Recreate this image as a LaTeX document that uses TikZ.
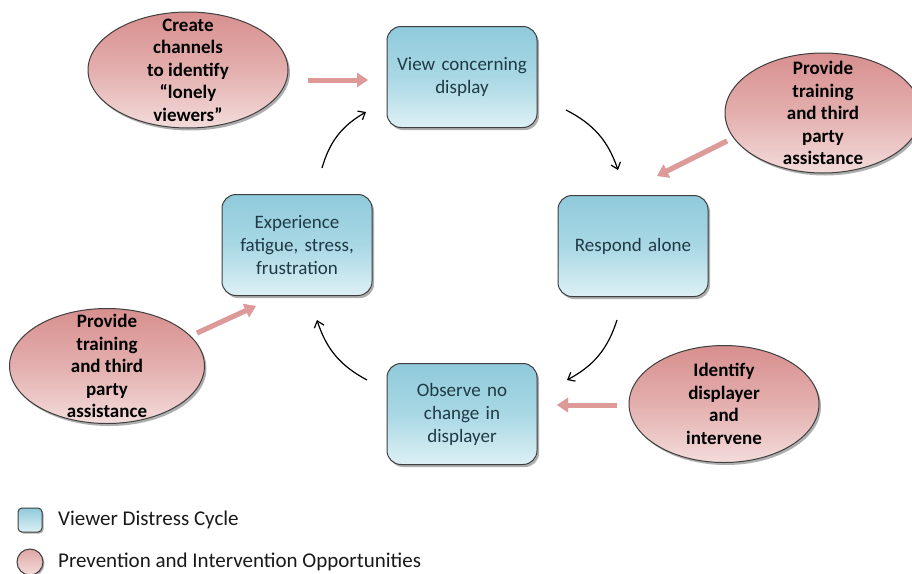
\documentclass[tikz,border=0pt]{standalone}
\usepackage{fontspec}
\setmainfont{Carlito}
\usetikzlibrary{shapes.geometric,arrows.meta,shadows}
\definecolor{boxtop}{HTML}{8FCADB}
\definecolor{boxmid}{HTML}{A9D8E4}
\definecolor{boxbot}{HTML}{DDF0F5}
\definecolor{elltop}{HTML}{D78F8E}
\definecolor{ellmid}{HTML}{E3AFAE}
\definecolor{ellbot}{HTML}{F3DCDB}
\definecolor{edge}{HTML}{3F3F3F}
\definecolor{boxtext}{HTML}{1F3A44}
\definecolor{pinkarrow}{HTML}{DE9A99}
\begin{document}
\begin{tikzpicture}[x=1pt,y=-1pt,
  cyclebox/.style={draw=edge, line width=1pt, rounded corners=14pt,
    minimum width=150pt, minimum height=101pt,
    top color=boxtop, bottom color=boxbot, middle color=boxmid,
    drop shadow={shadow xshift=2pt, shadow yshift=-2.5pt, opacity=0.45, fill=black!70},
    font=\fontsize{19}{23}\selectfont, text=boxtext, align=center,
    text width=142pt, inner sep=0pt},
  opp/.style={ellipse, draw=edge, line width=1pt,
    top color=elltop, bottom color=ellbot, middle color=ellmid,
    drop shadow={shadow xshift=2pt, shadow yshift=-2.5pt, opacity=0.45, fill=black!70},
    inner sep=0pt},
  opptext/.style={font=\bfseries\fontsize{19}{22.5}\selectfont, text=black, align=center, inner sep=0pt},
  cycarrow/.style={line width=1.2pt, -{Straight Barb[length=6pt,width=10pt,line width=1.2pt]}, bend left=22},
  pinkarr/.style={line width=5pt, draw=pinkarrow, -{Triangle[length=11pt,width=14pt]}},
  pinkshadow/.style={line width=5pt, draw=black, opacity=0.18, -{Triangle[length=11pt,width=14pt]}},
  legtext/.style={font=\fontsize{21}{25}\selectfont, text=black!90, anchor=west, inner sep=0pt}
]
\useasboundingbox (0,0) rectangle (912,573);
\fill[white] (0,0) rectangle (912,573);

% cycle boxes
\node[cyclebox] (view) at (462,77) {View concerning\\display};
\node[cyclebox] (respond) at (633,246) {Respond alone};
\node[cyclebox] (observe) at (462,414) {Observe no\\change in\\displayer};
\node[cyclebox] (experience) at (297,245) {Experience\\fatigue, stress,\\frustration};

% opportunity ellipses
\node[opp, minimum width=200pt, minimum height=116pt] (e1) at (188,70) {};
\node[opptext] (e1t) at (e1.center) {Create\\channels\\to identify\\“lonely\\viewers”};
\node[opp, minimum width=196pt, minimum height=120pt] (e2) at (823,113) {};
\node[opptext] (e2t) at (e2.center) {Provide\\training\\and third\\party\\assistance};
\node[opp, minimum width=195pt, minimum height=115pt] (e3) at (107,366) {};
\node[opptext] (e3t) at (e3.center) {Provide\\training\\and third\\party\\assistance};
\node[opp, minimum width=190pt, minimum height=117pt] (e4) at (724,404) {};
\node[opptext] (e4t) at (e4.center) {Identify\\displayer\\and\\intervene};

% cycle arrow end points
\coordinate (c1s) at (322,168);
\coordinate (c1e) at (366,112);
\coordinate (c2s) at (566,110);
\coordinate (c2e) at (618,170);
\coordinate (c3s) at (617,320);
\coordinate (c3e) at (567,380);
\coordinate (c4s) at (367,380);
\coordinate (c4e) at (317,320);
\draw[cycarrow] (c1s) to (c1e);
\draw[cycarrow] (c2s) to (c2e);
\draw[cycarrow] (c3s) to (c3e);
\draw[cycarrow] (c4s) to (c4e);

% pink arrows
\coordinate (p1s) at (308,80);
\coordinate (p1e) at (368,80);
\coordinate (p2s) at (727,141);
\coordinate (p2e) at (657,176);
\coordinate (p3s) at (197,333);
\coordinate (p3e) at (256,306);
\coordinate (p4s) at (617,405);
\coordinate (p4e) at (557,405);
\begin{scope}[shift={(1.5,2.5)}]
\draw[pinkshadow] (p1s) -- (p1e);
\draw[pinkshadow] (p2s) -- (p2e);
\draw[pinkshadow] (p3s) -- (p3e);
\draw[pinkshadow] (p4s) -- (p4e);
\end{scope}
\draw[pinkarr] (p1s) -- (p1e);
\draw[pinkarr] (p2s) -- (p2e);
\draw[pinkarr] (p3s) -- (p3e);
\draw[pinkarr] (p4s) -- (p4e);

% legend
\node[draw=edge, line width=1pt, rounded corners=4pt, minimum width=24pt, minimum height=24pt,
  top color=boxtop, bottom color=boxbot,
  drop shadow={shadow xshift=1.5pt, shadow yshift=-1.5pt, opacity=0.45, fill=black!70},
  inner sep=0pt] (legbox) at (30,520) {};
\node[legtext] (legboxt) at (58,520) {Viewer Distress Cycle};
\node[circle, draw=edge, line width=1pt, minimum size=26pt,
  top color=elltop!80!white, bottom color=ellbot,
  drop shadow={shadow xshift=1.5pt, shadow yshift=-1.5pt, opacity=0.45, fill=black!70},
  inner sep=0pt] (legcirc) at (30,562) {};
\node[legtext] (legcirct) at (58,562) {Prevention and Intervention Opportunities};
\end{tikzpicture}
\end{document}
